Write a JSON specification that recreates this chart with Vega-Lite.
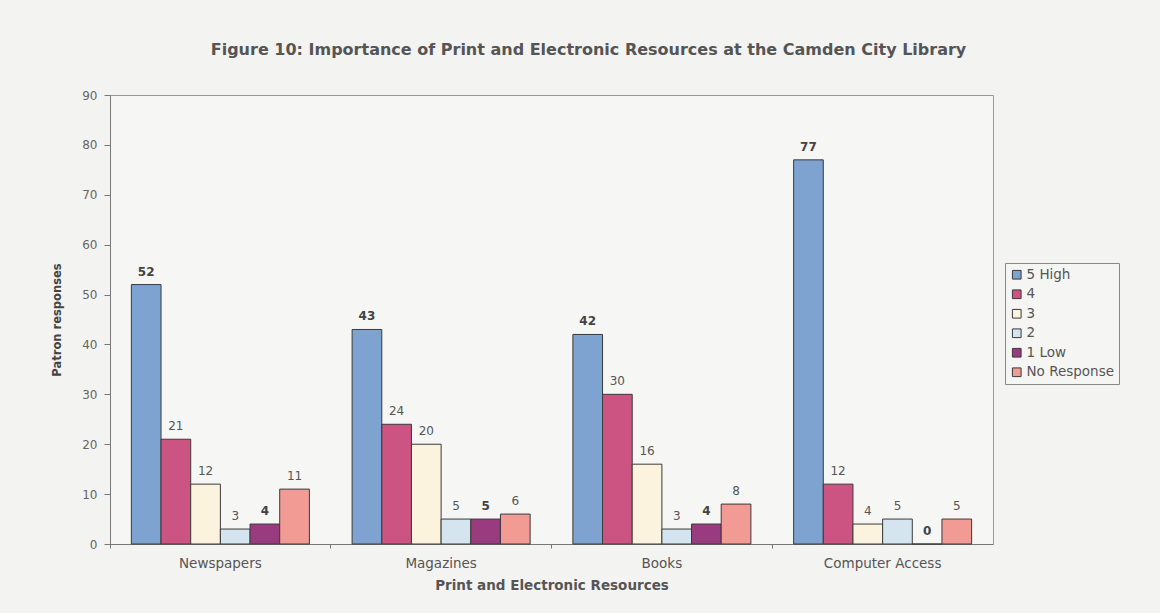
{
  "$schema": "https://vega.github.io/schema/vega-lite/v6.json",
  "width": 883,
  "height": 449,
  "autosize": {"type": "none"},
  "padding": {"left": 110, "top": 95, "right": 167, "bottom": 69},
  "background": "#f3f3f1",
  "title": {
    "text": "Figure 10: Importance of Print and Electronic Resources at the Camden City Library",
    "font": "DejaVu Sans",
    "fontSize": 16,
    "fontWeight": "bold",
    "color": "#555555",
    "anchor": "middle",
    "dx": 37,
    "offset": 31
  },
  "data": {
    "values": [
      {"resource": "Newspapers", "rating": "5 High", "count": 52},
      {"resource": "Newspapers", "rating": "4", "count": 21},
      {"resource": "Newspapers", "rating": "3", "count": 12},
      {"resource": "Newspapers", "rating": "2", "count": 3},
      {"resource": "Newspapers", "rating": "1 Low", "count": 4},
      {"resource": "Newspapers", "rating": "No Response", "count": 11},
      {"resource": "Magazines", "rating": "5 High", "count": 43},
      {"resource": "Magazines", "rating": "4", "count": 24},
      {"resource": "Magazines", "rating": "3", "count": 20},
      {"resource": "Magazines", "rating": "2", "count": 5},
      {"resource": "Magazines", "rating": "1 Low", "count": 5},
      {"resource": "Magazines", "rating": "No Response", "count": 6},
      {"resource": "Books", "rating": "5 High", "count": 42},
      {"resource": "Books", "rating": "4", "count": 30},
      {"resource": "Books", "rating": "3", "count": 16},
      {"resource": "Books", "rating": "2", "count": 3},
      {"resource": "Books", "rating": "1 Low", "count": 4},
      {"resource": "Books", "rating": "No Response", "count": 8},
      {"resource": "Computer Access", "rating": "5 High", "count": 77},
      {"resource": "Computer Access", "rating": "4", "count": 12},
      {"resource": "Computer Access", "rating": "3", "count": 4},
      {"resource": "Computer Access", "rating": "2", "count": 5},
      {"resource": "Computer Access", "rating": "1 Low", "count": 0},
      {"resource": "Computer Access", "rating": "No Response", "count": 5}
    ]
  },
  "encoding": {
    "x": {
      "field": "resource",
      "type": "nominal",
      "sort": ["Newspapers", "Magazines", "Books", "Computer Access"],
      "scale": {"paddingInner": 0, "paddingOuter": 0},
      "axis": {
        "title": "Print and Electronic Resources",
        "titleFont": "DejaVu Sans",
        "titleFontSize": 13.5,
        "titleFontWeight": "bold",
        "titleColor": "#555555",
        "titlePadding": 9,
        "labelAngle": 0,
        "labelFont": "DejaVu Sans",
        "labelFontSize": 13.5,
        "labelColor": "#555555",
        "labelPadding": 8,
        "bandPosition": 0,
        "ticks": true,
        "tickSize": 4,
        "tickColor": "#777777",
        "domainColor": "#777777",
        "grid": false
      }
    },
    "xOffset": {
      "field": "rating",
      "type": "nominal",
      "sort": ["5 High", "4", "3", "2", "1 Low", "No Response"],
      "scale": {"paddingInner": 0, "paddingOuter": 0.72}
    },
    "y": {
      "field": "count",
      "type": "quantitative",
      "scale": {"domain": [0, 90], "nice": false},
      "axis": {
        "values": [0, 10, 20, 30, 40, 50, 60, 70, 80, 90],
        "title": "Patron responses",
        "titleFont": "DejaVu Sans",
        "titleFontSize": 11.5,
        "titleFontWeight": "bold",
        "titleColor": "#444444",
        "titlePadding": 19,
        "labelFont": "DejaVu Sans",
        "labelFontSize": 12,
        "labelColor": "#666666",
        "labelPadding": 7,
        "tickSize": 6,
        "tickColor": "#777777",
        "domainColor": "#777777",
        "grid": false
      }
    }
  },
  "layer": [
    {
      "mark": {"type": "bar", "stroke": "#3a3a3a", "strokeWidth": 1},
      "encoding": {
        "color": {
          "field": "rating",
          "type": "nominal",
          "sort": ["5 High", "4", "3", "2", "1 Low", "No Response"],
          "scale": {
            "domain": ["5 High", "4", "3", "2", "1 Low", "No Response"],
            "range": ["#7fa3d0", "#cc5482", "#fbf3de", "#d5e5f0", "#9a3a7f", "#f29b94"]
          },
          "legend": {
            "title": null,
            "orient": "none",
            "legendX": 895,
            "legendY": 168,
            "symbolType": "square",
            "symbolSize": 75,
            "symbolStrokeColor": "#3a3a3a",
            "symbolStrokeWidth": 1,
            "labelFont": "DejaVu Sans",
            "labelFontSize": 13.5,
            "labelColor": "#555555",
            "rowPadding": 4.5,
            "labelOffset": 3,
            "padding": 5,
            "strokeColor": "#888888",
            "fillColor": "#f5f5f3"
          }
        }
      }
    },
    {
      "transform": [{"filter": "datum.rating === '5 High' || datum.rating === '1 Low'"}],
      "mark": {"type": "text", "dy": -13, "font": "DejaVu Sans", "fontSize": 12, "fontWeight": "bold", "color": "#444444"},
      "encoding": {"text": {"field": "count", "type": "quantitative"}}
    },
    {
      "transform": [{"filter": "datum.rating !== '5 High' && datum.rating !== '1 Low'"}],
      "mark": {"type": "text", "dy": -13, "font": "DejaVu Sans", "fontSize": 12, "color": "#555555"},
      "encoding": {"text": {"field": "count", "type": "quantitative"}}
    }
  ],
  "config": {
    "view": {"stroke": "#999999", "fill": "#f6f6f4"}
  }
}
